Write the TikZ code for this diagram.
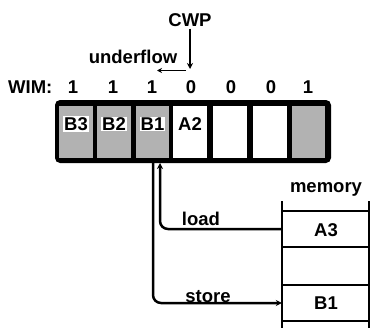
\documentclass[tikz,border=0pt]{standalone}
\usepackage{fontspec}
\setmainfont{Liberation Sans}
\usetikzlibrary{arrows.meta}
\begin{document}
\begin{tikzpicture}[x=1pt,y=-1pt,
  lbl/.style={font=\fontsize{18.5}{20}\selectfont\bfseries, inner sep=0pt},
  cell/.style={draw=none, inner sep=0pt, minimum width=33.5pt, minimum height=52pt},
  shaded/.style={cell, fill=black!30},
  plain/.style={cell, fill=white},
  celltext/.style={lbl, fill=white, inner sep=1pt},
  conn/.style={line width=2.5pt, rounded corners=8pt},
  tip/.style={-{Stealth[length=6pt,width=6pt]}},
  memline/.style={line width=2.5pt},
  memcell/.style={draw=none, inner sep=0pt, minimum width=87pt, minimum height=36pt}]
\useasboundingbox (0,0) rectangle (371,329);
% register frame
\node (frame) [fill=black, rounded corners=5pt, inner sep=0pt,
  minimum width=276pt, minimum height=63pt] at (193,131.5) {};
\node (c1) [shaded] at (76,132) {};
\node (c2) [shaded] at (114,132) {};
\node (c3) [shaded] at (152.5,132) {};
\node (c4) [plain] at (190,132) {};
\node (c5) [plain] at (230,132) {};
\node (c6) [plain] at (270,132) {};
\node (c7) [shaded] at (308.5,132) {};
\node (t1) [celltext] at (76,124) {B3};
\node (t2) [celltext] at (114,124) {B2};
\node (t3) [celltext] at (152.5,124) {B1};
\node (t4) [celltext] at (190,124) {A2};
% WIM row
\node (wim) [lbl, anchor=base west] at (8,93) {WIM:};
\node (w1) [lbl, anchor=base] at (73,93) {1};
\node (w2) [lbl, anchor=base] at (113,93) {1};
\node (w3) [lbl, anchor=base] at (152,93) {1};
\node (w4) [lbl, anchor=base] at (191,93) {0};
\node (w5) [lbl, anchor=base] at (231,93) {0};
\node (w6) [lbl, anchor=base] at (271,93) {0};
\node (w7) [lbl, anchor=base] at (308,93) {1};
% CWP and underflow
\node (cwp) [lbl] at (190,20) {CWP};
\coordinate (cwpend) at (190,69);
\draw[line width=1.8pt, tip] (cwp.south) ++(0,2) -- (cwpend);
\node (under) [lbl, anchor=base] at (133,63) {underflow};
\coordinate (ufstart) at (186,70.5);
\coordinate (ufend) at (157,70.5);
\draw[line width=1.8pt, -{Stealth[length=5pt,width=5pt]}] (ufstart) -- (ufend);
% memory
\node (memlbl) [lbl, anchor=base] at (326,192) {memory};
\node (m1) [memcell] at (325.5,229) {};
\node (m2) [memcell] at (325.5,266) {};
\node (m3) [memcell] at (325.5,303) {};
\node (a3) [lbl] at (326,230) {A3};
\node (b1m) [lbl] at (326,303) {B1};
\draw[memline] (282,201) -- (282,328);
\draw[memline] (369,201) -- (369,328);
\draw[memline] (282,211) -- (369,211);
\draw[memline] (282,247) -- (369,247);
\draw[memline] (282,285) -- (369,285);
\draw[memline] (282,321) -- (369,321);
% connectors
\coordinate (ldin) at (160,163);
\coordinate (stout) at (153,163);
\draw[conn, tip] (m1.west) -| (ldin);
\draw[conn, tip] (stout) |- (m3.west);
\node (load) [lbl, anchor=base] at (201,225) {load};
\node (store) [lbl, anchor=base] at (208,302) {store};
\end{tikzpicture}
\end{document}
